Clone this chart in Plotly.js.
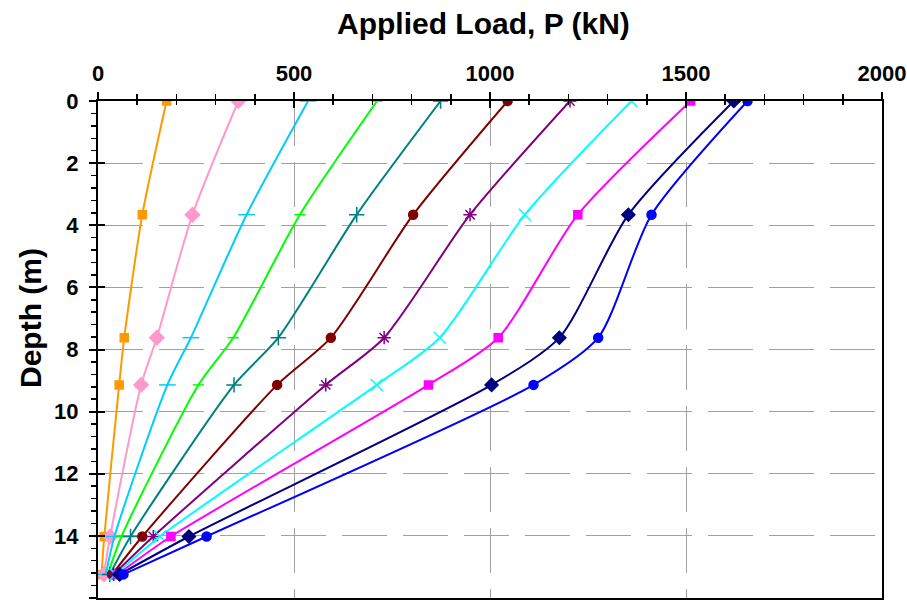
<!DOCTYPE html>
<html>
<head>
<meta charset="utf-8">
<script src="https://cdn.plot.ly/plotly-3.0.1.min.js"></script>
<style>html,body{margin:0;padding:0;background:#fff;}#chart{width:907px;height:604px;}</style>
</head>
<body>
<div id="chart"></div>
<script>
// Depth of measurement points (m)
const depth = [0, 3.66, 7.62, 9.14, 14.02, 15.24];
// Load (kN) at each depth, one array per applied load step
const orange    = [175, 113, 67, 54, 16, 9];
const pink      = [358, 241, 150, 110, 31, 15];
const lightBlue = [536, 379, 237, 177, 42, 20];
const green     = [712, 515, 345, 256, 60, 25];
const teal      = [874, 660, 460, 347, 83, 30];
const darkRed   = [1045, 804, 594, 457, 113, 36];
const purple    = [1204, 949, 730, 581, 141, 40];
const cyan      = [1361, 1089, 872, 711, 158, 45];
const magenta   = [1512, 1224, 1021, 843, 186, 50];
const navy      = [1622, 1353, 1177, 1004, 232, 55];
const blue      = [1657, 1412, 1276, 1111, 277, 65];

const xTitle = 'Applied Load, P (kN)';
const yTitle = 'Depth (m)';

const series = [
  {x: orange,    color: '#FF9900', symbol: 'square',            size: 8},
  {x: pink,      color: '#FF99CC', symbol: 'diamond',           size: 11},
  {x: lightBlue, color: '#00CCFF', symbol: 'line-ew-open',      size: 12},
  {x: green,     color: '#00FF00', symbol: 'line-ew-open',      size: 8},
  {x: teal,      color: '#008080', symbol: 'cross-thin-open',   size: 11},
  {x: darkRed,   color: '#800000', symbol: 'circle',            size: 9},
  {x: purple,    color: '#800080', symbol: 'asterisk-open',     size: 11},
  {x: cyan,      color: '#00FFFF', symbol: 'x-thin-open',       size: 12},
  {x: magenta,   color: '#FF00FF', symbol: 'square',            size: 8},
  {x: navy,      color: '#000080', symbol: 'diamond',           size: 10},
  {x: blue,      color: '#0000FF', symbol: 'circle',            size: 9}
];

const traces = series.map(s => ({
  type: 'scatter',
  mode: 'lines+markers',
  x: s.x,
  y: depth,
  xaxis: 'x', yaxis: 'y',
  line: {color: s.color, width: 2, shape: 'spline', smoothing: 0.7},
  marker: {color: s.color, symbol: s.symbol, size: s.size, line: {color: s.color, width: 1.5}},
  showlegend: false,
  hoverinfo: 'skip'
}));

const fam = 'Liberation Sans, Arial, sans-serif';
const tickFont = {family: fam, size: 22, color: '#000', weight: 'bold'};

const layout = {
  width: 907, height: 604,
  margin: {l: 98, r: 25, t: 101, b: 6},
  paper_bgcolor: '#fff', plot_bgcolor: '#fff',
  font: {family: fam, color: '#000'},
  showlegend: false,
  xaxis: {
    side: 'top', range: [0, 2000], dtick: 500, tick0: 0,
    showline: true, linecolor: '#000', linewidth: 2, mirror: true,
    ticks: 'outside', ticklen: 7, tickwidth: 2, tickcolor: '#000',
    minor: {dtick: 100, ticks: 'outside', ticklen: 5, tickwidth: 1.5, tickcolor: '#000', showgrid: false},
    showgrid: true, gridcolor: '#a0a0a0', gridwidth: 1, griddash: '45px,16px',
    zeroline: false,
    tickfont: tickFont,
    ticklabelstandoff: 2,
    automargin: false
  },
  yaxis: {
    range: [16, 0], dtick: 2, tick0: 0,
    showline: true, linecolor: '#000', linewidth: 2, mirror: true,
    ticks: 'outside', ticklen: 7, tickwidth: 2, tickcolor: '#000',
    minor: {dtick: 0.4, ticks: 'outside', ticklen: 5, tickwidth: 1.5, tickcolor: '#000', showgrid: false},
    showgrid: true, gridcolor: '#a0a0a0', gridwidth: 1, griddash: '45px,16px',
    zeroline: false,
    tickfont: tickFont,
    ticklabelstandoff: 6,
    automargin: false
  },
  xaxis2: {
    overlaying: 'x', side: 'top', anchor: 'y', range: [0, 2000], dtick: 500, tick0: 0,
    showline: false, showgrid: false, zeroline: false, showticklabels: false,
    ticks: 'inside', ticklen: 7, tickwidth: 2, tickcolor: '#000',
    minor: {dtick: 100, ticks: 'inside', ticklen: 4, tickwidth: 1.5, tickcolor: '#000', showgrid: false}
  },
  yaxis2: {
    overlaying: 'y', side: 'left', anchor: 'x', range: [16, 0], dtick: 2, tick0: 0,
    showline: false, showgrid: false, zeroline: false, showticklabels: false,
    ticks: 'inside', ticklen: 7, tickwidth: 2, tickcolor: '#000'
  },
  annotations: [
    {text: '<b>' + xTitle + '</b>', xref: 'paper', yref: 'paper', x: (483 - 98) / 784, y: 1 + (101 - 23) / 497,
     xanchor: 'center', yanchor: 'middle', showarrow: false, font: {family: fam, size: 30, color: '#000'}},
    {text: '<b>' + yTitle + '</b>', xref: 'paper', yref: 'paper', x: (30 - 98) / 784, y: 1 - (318 - 101) / 497,
     xanchor: 'center', yanchor: 'middle', textangle: -90, showarrow: false, font: {family: fam, size: 30, color: '#000'}}
  ]
};

// invisible trace to activate secondary axes (ticks only)
traces.push({type: 'scatter', mode: 'markers', x: [null], y: [null], xaxis: 'x2', yaxis: 'y2', showlegend: false, hoverinfo: 'skip'});

Plotly.newPlot('chart', traces, layout, {staticPlot: true, displayModeBar: false});
</script>
</body>
</html>
